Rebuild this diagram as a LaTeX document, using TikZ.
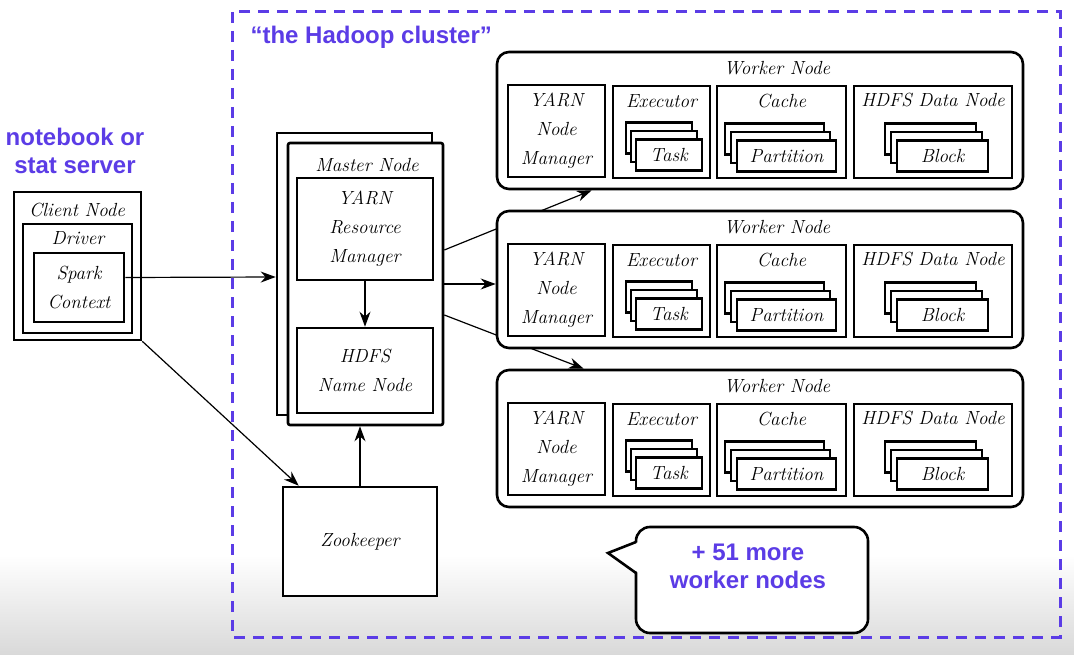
\documentclass[tikz,border=0pt]{standalone}
\usepackage{fontspec}
\newfontfamily\bluefont{Liberation Sans}
\usetikzlibrary{arrows.meta}
\definecolor{hadoopblue}{HTML}{5B3CE6}
\pgfdeclarelayer{back}
\pgfsetlayers{back,main}
\tikzset{
    box/.style = {draw, line width=2.6pt, fill=white, inner sep=0pt, align=center},
    hand/.style = {font=\fontsize{19}{29}\selectfont\itshape},
    link/.style = {-{Stealth[length=15pt,width=11pt]}, line width=1.2pt},
    bluetext/.style = {text=hadoopblue, align=center, font=\fontsize{24}{28}\selectfont\bluefont\bfseries},
    cluster/.style = {draw=hadoopblue, line width=3pt, dash pattern=on 11pt off 8pt}
}
\begin{document}
\begin{tikzpicture}[x=1pt, y=-1pt]
    \useasboundingbox (0,0) rectangle (1074,655);
    % fading floor
    \fill[top color=white, bottom color=black!15] (0,555) rectangle (1074,655);

    % the cluster frame
    \draw[cluster] (232,12) rectangle (1060,637);
    \node[bluetext, anchor=west] (title) at (247,37) {“the Hadoop cluster”};
    \node[bluetext] (clientlbl) at (75,151) {notebook or\\stat server};

    % client
    \node[box, minimum width=127pt, minimum height=148pt] (client) at (77.5,266) {};
    \node[hand] (clienttxt) at (77,210) {Client Node};
    \node[box, minimum width=109pt, minimum height=109pt] (driver) at (77.5,278.5) {};
    \node[hand] (drivertxt) at (78,238) {Driver};
    \node[box, hand, minimum width=90pt, minimum height=69pt] (spark) at (79,287.5) {Spark\\Context};

    % master
    \node[box, minimum width=155pt, minimum height=282pt] (mback) at (354.5,274) {};
    \node[box, rounded corners=2pt, minimum width=155pt, minimum height=282pt] (mfront) at (365.5,284) {};
    \node[hand] (mtxt) at (367,165) {Master Node};
    \node[box, hand, minimum width=136pt, minimum height=102pt] (rm) at (365,229) {YARN\\Resource\\Manager};
    \node[box, hand, minimum width=136pt, minimum height=85pt] (nn) at (365,370.5) {HDFS\\Name Node};

    \node[box, hand, minimum width=154pt, minimum height=109pt] (zk) at (360,541.5) {Zookeeper};

    % workers
    \foreach \i/\dy in {1/0, 2/159, 3/318}{
        \begin{scope}[yshift=-\dy pt]
            \node[box, rounded corners=12pt, minimum width=526pt, minimum height=137pt] (w\i) at (760,120.5) {};
            \node[hand] (w\i txt) at (777,68) {Worker Node};
            \node[box, hand, minimum width=97pt, minimum height=92pt] (nm\i) at (556.5,131) {YARN\\Node\\Manager};
            \node[box, minimum width=97pt, minimum height=92pt] (ex\i) at (661.5,132) {};
            \node[hand] (ex\i txt) at (661.5,101) {Executor};
            \node[box, minimum width=129pt, minimum height=92pt] (ca\i) at (781.5,132) {};
            \node[hand] (ca\i txt) at (781.5,101) {Cache};
            \node[box, minimum width=158pt, minimum height=92pt] (dn\i) at (933,132) {};
            \node[hand] (dn\i txt) at (933,100) {HDFS Data Node};
            \foreach \k in {2,1,0}{
                \node[box, hand, minimum width=66pt, minimum height=31pt] (task\i-\k) at ({669-5*\k},{155-8.5*\k}) {\ifnum\k=0 Task\fi};
                \node[box, hand, minimum width=99pt, minimum height=31pt] (part\i-\k) at ({786.5-6*\k},{156-8.5*\k}) {\ifnum\k=0 Partition\fi};
                \node[box, hand, minimum width=91pt, minimum height=31pt] (blk\i-\k) at ({942.5-6*\k},{156-8.5*\k}) {\ifnum\k=0 Block\fi};
            }
        \end{scope}
    }

    % master to workers, behind the boxes
    \begin{pgfonlayer}{back}
        \draw[link] ([yshift=34pt]mfront.east) -- ([xshift=96pt]w1.south west);
        \draw[link] (mfront.east) -- (mfront.east -| w2.west);
        \draw[link] ([yshift=-31pt]mfront.east) -- ([xshift=88pt]w3.north west);
    \end{pgfonlayer}

    \draw[link] ([yshift=10pt]spark.east) -- ([yshift=-3pt]mback.west);
    \draw[link] (client.south east) -- ([xshift=17pt]zk.north west);
    \draw[link] (zk.north) -- (zk.north |- mfront.south);
    \draw[link] (rm.south) -- (nn.north);

    % callout
    \node[box, rounded corners=14pt, minimum width=232pt, minimum height=106pt] (more) at (752,580) {};
    \coordinate (tip) at (608,553);
    \fill[white] ([xshift=4pt,yshift=38pt]more.west) -- (tip) -- ([xshift=4pt,yshift=7pt]more.west) -- cycle;
    \draw[line width=2.6pt, line join=miter] ([xshift=1.3pt,yshift=38pt]more.west) -- (tip) -- ([xshift=1.3pt,yshift=7pt]more.west);
    \node[bluetext] (moretxt) at (748,566) {+ 51 more\\worker nodes};
\end{tikzpicture}
\end{document}
